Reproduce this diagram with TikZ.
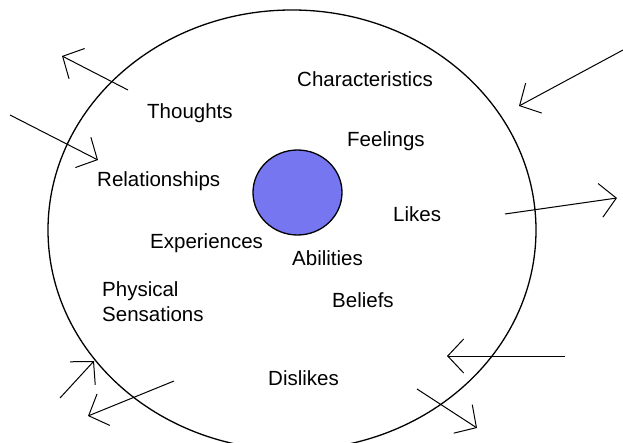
\documentclass[tikz,border=0pt]{standalone}
\usepackage{fontspec}
\setmainfont{Liberation Sans}
\usetikzlibrary{arrows.meta,shapes.geometric}

\definecolor{coreblue}{RGB}{118,118,240}

\begin{document}
\begin{tikzpicture}[x=1pt, y=-1pt, >={Straight Barb[length=16pt,width=34pt]},
    font=\fontsize{20.5}{25}\selectfont]
  \tikzstyle{lbl}=[inner sep=0pt, anchor=base west]
  \tikzstyle{arr}=[->, line width=1pt]

  \clip (0,0) rectangle (623,443);
  \fill[white] (0,0) rectangle (623,443);

  % --- the self and its core ---
  \node[ellipse, draw, line width=1.3pt, minimum width=488pt, minimum height=440pt,
        inner sep=0pt] (self) at (292,230) {};
  \node[ellipse, draw, fill=coreblue, line width=1.3pt, minimum width=89pt,
        minimum height=85pt, inner sep=0pt] (core) at (297.5,192.5) {};

  % --- labels inside ---
  \node[lbl] (chars)   at (297,87)  {Characteristics};
  \node[lbl] (thought) at (147,119) {Thoughts};
  \node[lbl] (feel)    at (347,147) {Feelings};
  \node[lbl] (rel)     at (97,187)  {Relationships};
  \node[lbl] (likes)   at (393,222) {Likes};
  \node[lbl] (exper)   at (150,249) {Experiences};
  \node[lbl] (abil)    at (292,266) {Abilities};
  \node[lbl] (phys)    at (102,296) {Physical};
  \node[lbl] (sens)    at (102,321) {Sensations};
  \node[lbl] (belief)  at (332,308) {Beliefs};
  \node[lbl] (dislike) at (268,385) {Dislikes};

  % --- arrow ends ---
  \coordinate (thoA) at (128,90);   \coordinate (thoB) at (62,56);
  \coordinate (relA) at (10,115);   \coordinate (relB) at (98,160);
  \coordinate (chaA) at (623,50);   \coordinate (chaB) at (519,106);
  \coordinate (likA) at (505,214);  \coordinate (likB) at (617,198);
  \coordinate (phyA) at (60,398);   \coordinate (phyB) at (94,361);
  \coordinate (senA) at (174,381);  \coordinate (senB) at (88,416);
  \coordinate (disA) at (565,356);  \coordinate (disB) at (447,356);
  \coordinate (belA) at (417,389);  \coordinate (belB) at (477,428);

  % --- arrows in and out ---
  \draw[arr] (thoA) -- (thoB);
  \draw[arr] (relA) -- (relB);
  \draw[arr] (chaA) -- (chaB);
  \draw[arr] (likA) -- (likB);
  \draw[arr] (phyA) -- (phyB);
  \draw[arr] (senA) -- (senB);
  \draw[arr] (disA) -- (disB);
  \draw[arr] (belA) -- (belB);
\end{tikzpicture}
\end{document}
